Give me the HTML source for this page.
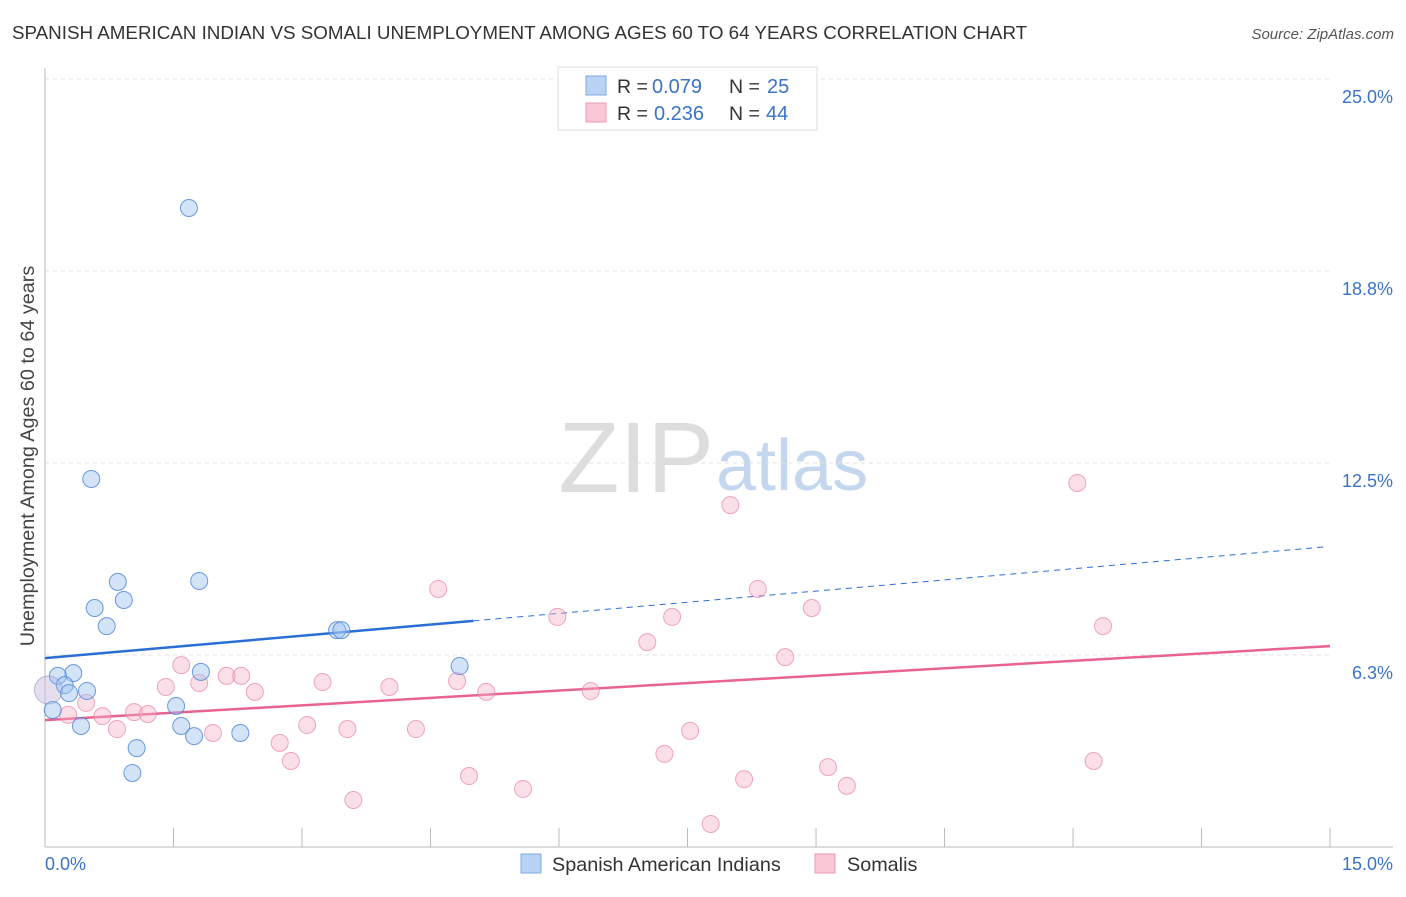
<!DOCTYPE html>
<html><head><meta charset="utf-8"><style>
body{margin:0;background:#fff;font-family:"Liberation Sans",sans-serif}
svg text{font-family:"Liberation Sans",sans-serif}
</style></head><body>
<svg id="chart" width="1406" height="892" xmlns="http://www.w3.org/2000/svg">
<text x="12" y="39" font-size="18.8" fill="#333">SPANISH AMERICAN INDIAN VS SOMALI UNEMPLOYMENT AMONG AGES 60 TO 64 YEARS CORRELATION CHART</text>
<text x="1394" y="39" font-size="15" fill="#555" text-anchor="end" font-style="italic">Source: ZipAtlas.com</text>
<text x="714" y="492" font-size="100" text-anchor="end" fill="#ddd" font-family="Liberation Serif">ZIP</text>
<text x="716" y="490" font-size="72" fill="#c5d7ee">atlas</text>
<text transform="translate(34,456) rotate(-90)" font-size="19.8" fill="#444" text-anchor="middle">Unemployment Among Ages 60 to 64 years</text>
<g id="grid"></g><g id="axes"></g><g id="lines"></g><g id="points"></g>
<g>
<rect x="558" y="67" width="259" height="63" fill="#fff" stroke="#ddd"/>
<rect x="586" y="76" width="20" height="19" fill="#b9d3f5" stroke="#7fa9e0"/>
<rect x="586" y="103" width="20" height="19" fill="#f9c7d6" stroke="#ee9ab3"/>
<text x="617" y="93" font-size="19.5" fill="#333">R =</text>
<text x="652" y="93" font-size="20" fill="#3a73c8">0.079</text>
<text x="729" y="93" font-size="19.5" fill="#333">N =</text>
<text x="767" y="93" font-size="20" fill="#3a73c8">25</text>
<text x="617" y="120" font-size="19.5" fill="#333">R =</text>
<text x="654" y="120" font-size="20" fill="#3a73c8">0.236</text>
<text x="729" y="120" font-size="19.5" fill="#333">N =</text>
<text x="766" y="120" font-size="20" fill="#3a73c8">44</text>
</g>
<g>
<rect x="521" y="854" width="20" height="19" fill="#b9d3f5" stroke="#7fa9e0"/>
<text x="552" y="871" font-size="19.8" fill="#333">Spanish American Indians</text>
<rect x="815" y="854" width="20" height="19" fill="#f9c7d6" stroke="#ee9ab3"/>
<text x="847" y="871" font-size="19.8" fill="#333">Somalis</text>
</g>
</svg>
<script>
const blueX=[1.68,0.54,0.85,1.80,0.58,0.92,0.72,3.41,3.46,4.84,0.33,0.15,0.23,0.49,0.28,1.53,0.09,1.59,0.42,1.74,2.28,1.07,1.02,1.82,0.04];
const blueY=[20.8,11.98,8.63,8.66,7.78,8.04,7.19,7.06,7.06,5.89,5.66,5.57,5.27,5.08,5.01,4.59,4.46,3.94,3.94,3.61,3.71,3.22,2.41,5.70,5.11];
const pinkX=[12.05,8.0,4.59,8.32,5.98,7.32,8.95,12.35,7.03,8.64,1.59,2.12,2.29,1.80,1.41,3.24,2.45,4.02,4.81,5.15,6.37,0.48,0.27,0.67,1.04,1.20,0.84,1.96,3.06,3.53,4.33,2.74,2.87,7.53,7.23,4.95,5.58,3.60,8.16,9.14,9.36,7.77,12.24,0.04];
const pinkY=[11.85,11.13,8.4,8.4,7.49,7.49,7.78,7.19,6.67,6.18,5.92,5.57,5.57,5.34,5.21,5.37,5.05,5.21,5.40,5.05,5.08,4.69,4.30,4.26,4.39,4.33,3.84,3.71,3.97,3.84,3.84,3.39,2.80,3.78,3.03,2.31,1.89,1.53,2.21,2.60,1.99,0.75,2.80,5.11];
const yTicks=[25.0,18.75,12.5,6.25];
const yTickLabels=["25.0%","18.8%","12.5%","6.3%"];
const blueTrend=[6.15,9.77];
const blueSolidEnd=5.0;
const pinkTrend=[4.13,6.54];
const xMax=15;
const NS="http://www.w3.org/2000/svg";
const sx=v=>45+v*85.67, sy=v=>847-v*30.72;
function mk(tag,attrs,parent){const e=document.createElementNS(NS,tag);for(const k in attrs)e.setAttribute(k,attrs[k]);document.getElementById(parent).appendChild(e);return e;}
yTicks.forEach((t,i)=>{
 const g=mk('line',{x1:45,x2:1330,y1:sy(t),y2:sy(t),stroke:'#e2e2e2','stroke-dasharray':'4,4'},'grid');
 
 
 const tx=mk('text',{x:1393,y:sy(t)+24,'font-size':18,fill:'#3a73c8','text-anchor':'end'},'axes');
 tx.textContent=yTickLabels[i];
 
 
});
const ax=mk('line',{x1:45,x2:45,y1:68,y2:847,stroke:'#bbb'},'axes');


const bx=mk('line',{x1:45,x2:1393,y1:847,y2:847,stroke:'#bbb'},'axes');


for(let i=0;i<=10;i++){const v=i*1.5;const t=mk('line',{x1:sx(v),x2:sx(v),y1:828,y2:847,stroke:'#bbb'},'axes');
 
 }
const l0=mk('text',{x:45,y:870,'font-size':18,fill:'#3a73c8'},'axes');l0.textContent='0.0%';


const l1=mk('text',{x:1393,y:870,'font-size':18,fill:'#3a73c8','text-anchor':'end'},'axes');l1.textContent='15.0%';


const bAt=v=>blueTrend[0]+(blueTrend[1]-blueTrend[0])*v/14.94;
const bl=mk('line',{x1:sx(0),y1:sy(bAt(0)),x2:sx(blueSolidEnd),y2:sy(bAt(blueSolidEnd)),stroke:'#2a6fd4','stroke-width':2.5},'lines');


const bd=mk('line',{x1:sx(blueSolidEnd),y1:sy(bAt(blueSolidEnd)),x2:sx(14.94),y2:sy(bAt(14.94)),stroke:'#2a6fd4','stroke-width':1,'stroke-dasharray':'6,5'},'lines');


const pl=mk('line',{x1:sx(0),y1:sy(pinkTrend[0]),x2:sx(xMax),y2:sy(pinkTrend[1]),stroke:'#e8648f','stroke-width':2.5},'lines');


pinkX.forEach((x,i)=>{const big=i===pinkX.length-1;const c=mk('circle',{cx:sx(x),cy:sy(pinkY[i]),r:big?14:8.5,fill:big?'rgba(246,176,198,0.3)':'rgba(246,176,198,0.4)',stroke:big?'rgba(232,130,165,0.3)':'rgba(232,130,165,0.7)','stroke-width':1},'points');
 
 });
blueX.forEach((x,i)=>{const big=i===blueX.length-1;const c=mk('circle',{cx:sx(x),cy:sy(blueY[i]),r:big?14:8.5,fill:big?'rgba(160,196,240,0.25)':'rgba(160,196,240,0.45)',stroke:big?'rgba(70,130,215,0.3)':'rgba(70,130,215,0.8)','stroke-width':1},'points');
 
 });
</script>
</body></html>
